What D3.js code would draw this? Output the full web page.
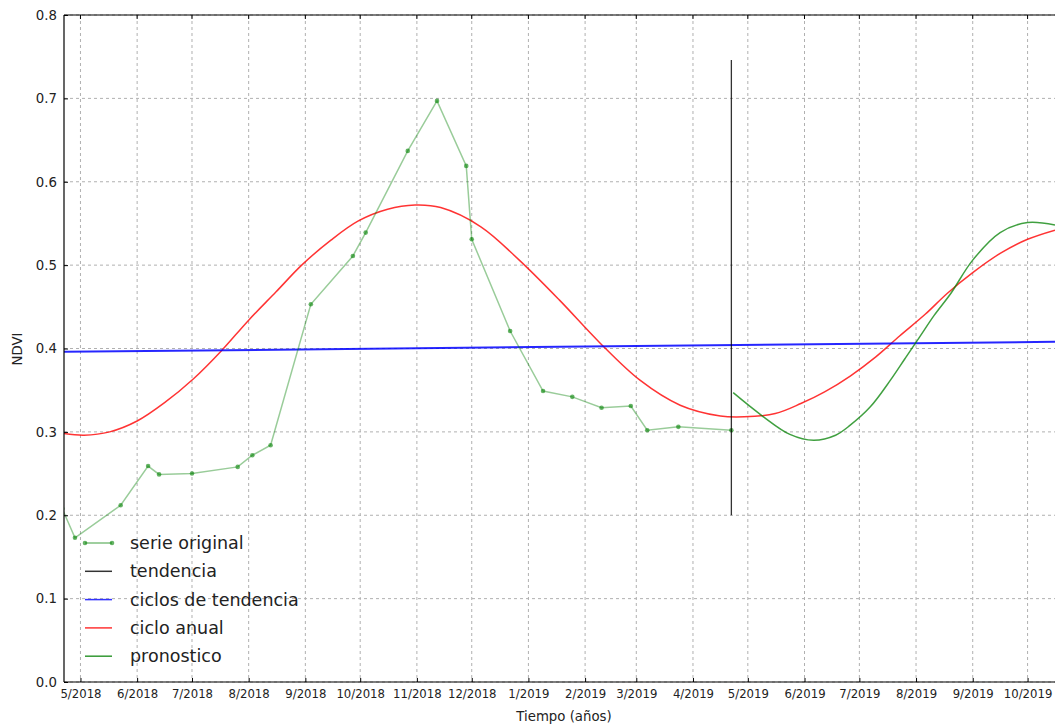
<!DOCTYPE html>
<html><head><meta charset="utf-8">
<script src="https://cdn.jsdelivr.net/npm/d3@7/dist/d3.min.js"></script>
<style>body{margin:0;background:#fff;} svg{display:block;font-family:"DejaVu Sans",sans-serif;}</style>
</head><body><svg id="c" width="1055" height="726"></svg>
<script>
// ---- data ----
const monthTicks = ["2018-05-01","2018-06-01","2018-07-01","2018-08-01","2018-09-01","2018-10-01","2018-11-01","2018-12-01","2019-01-01","2019-02-01","2019-03-01","2019-04-01","2019-05-01","2019-06-01","2019-07-01","2019-08-01","2019-09-01","2019-10-01"];
const monthLabels = ["5/2018","6/2018","7/2018","8/2018","9/2018","10/2018","11/2018","12/2018","1/2019","2/2019","3/2019","4/2019","5/2019","6/2019","7/2019","8/2019","9/2019","10/2019"];
const yTicks = [0.0,0.1,0.2,0.3,0.4,0.5,0.6,0.7,0.8];

const origDates = ["2018-04-21","2018-04-28","2018-05-23","2018-06-07","2018-06-13","2018-07-01","2018-07-26","2018-08-03","2018-08-13","2018-09-04","2018-09-27","2018-10-04","2018-10-27","2018-11-12","2018-11-28","2018-12-01","2018-12-22","2019-01-09","2019-01-25","2019-02-10","2019-02-26","2019-03-07","2019-03-24","2019-04-22"];
const origValues = [0.208,0.173,0.212,0.259,0.249,0.250,0.258,0.272,0.284,0.453,0.511,0.539,0.637,0.697,0.619,0.531,0.421,0.349,0.342,0.329,0.331,0.302,0.306,0.302];

const trendDates = ["2019-04-22","2019-04-22"];
const trendValues = [0.200,0.746];

const cycleTrendDates = ["2018-04-22","2019-10-16"];
const cycleTrendValues = [0.396,0.408];

const annualDates = ["2018-04-22","2018-05-03","2018-05-17","2018-06-01","2018-06-16","2018-07-02","2018-07-17","2018-08-01","2018-08-16","2018-08-30","2018-09-15","2018-09-30","2018-10-16","2018-10-31","2018-11-14","2018-12-06","2018-12-27","2019-01-18","2019-02-09","2019-03-03","2019-03-25","2019-04-16","2019-04-29","2019-05-16","2019-05-30","2019-06-12","2019-06-26","2019-07-10","2019-07-23","2019-08-06","2019-08-18","2019-09-01","2019-09-16","2019-10-01","2019-10-16"];
const annualValues = [0.298,0.296,0.300,0.313,0.335,0.364,0.397,0.434,0.468,0.500,0.530,0.553,0.567,0.572,0.569,0.546,0.506,0.458,0.407,0.362,0.332,0.319,0.318,0.322,0.334,0.348,0.367,0.390,0.415,0.441,0.466,0.491,0.514,0.531,0.542];

const forecastDates = ["2019-04-23","2019-05-09","2019-05-24","2019-06-06","2019-06-18","2019-06-26","2019-07-07","2019-07-18","2019-07-26","2019-08-03","2019-08-11","2019-08-20","2019-09-01","2019-09-16","2019-10-01","2019-10-16"];
const forecastValues = [0.347,0.319,0.297,0.290,0.296,0.308,0.330,0.362,0.388,0.414,0.440,0.466,0.506,0.539,0.551,0.548];

const legendLabels = ["serie original","tendencia","ciclos de tendencia","ciclo anual","pronostico"];
const legendColors = ["#008000","#000000","#0000ff","#ff0000","#008000"];

// ---- layout ----
const parse = d3.utcParse("%Y-%m-%d");
const pL = 64, pT = 15, pB = 682, pR = 1055;
const x = d3.scaleUtc().domain([parse("2018-04-22"), parse("2019-10-16")]).range([pL, pR]);
const y = d3.scaleLinear().domain([0, 0.8]).range([pB, pT]);
const svg = d3.select("#c");

svg.append("defs").append("clipPath").attr("id", "clip")
  .append("rect").attr("x", pL).attr("y", pT).attr("width", pR - pL).attr("height", pB - pT);

// grid
const g = svg.append("g");
g.selectAll(".vg").data(monthTicks).enter().append("line")
  .attr("x1", d => x(parse(d))).attr("x2", d => x(parse(d)))
  .attr("y1", pT).attr("y2", pB)
  .attr("stroke", "#b0b0b0").attr("stroke-dasharray", "3,3").attr("stroke-width", 1);
g.selectAll(".hg").data(yTicks).enter().append("line")
  .attr("x1", pL).attr("x2", pR)
  .attr("y1", d => y(d)).attr("y2", d => y(d))
  .attr("stroke", "#b0b0b0").attr("stroke-dasharray", "3,3").attr("stroke-width", 1);

const zip = (ds, vs) => ds.map((d, i) => [parse(d), vs[i]]);
const straight = d3.line().x(d => x(d[0])).y(d => y(d[1]));
const smooth = d3.line().x(d => x(d[0])).y(d => y(d[1])).curve(d3.curveCatmullRom);

const plot = svg.append("g").attr("clip-path", "url(#clip)");
// red annual cycle
plot.append("path").datum(zip(annualDates, annualValues))
  .attr("d", smooth).attr("fill", "none")
  .attr("stroke", "#ff0000").attr("stroke-opacity", 0.8).attr("stroke-width", 1.5);
// blue
plot.append("path").datum(zip(cycleTrendDates, cycleTrendValues))
  .attr("d", straight).attr("fill", "none")
  .attr("stroke", "#0000ff").attr("stroke-opacity", 0.85).attr("stroke-width", 2);
// original
const orig = zip(origDates, origValues);
plot.append("path").datum(orig)
  .attr("d", straight).attr("fill", "none")
  .attr("stroke", "#008000").attr("stroke-opacity", 0.4).attr("stroke-width", 1.5);
plot.selectAll(".pt").data(orig).enter().append("circle")
  .attr("cx", d => x(d[0])).attr("cy", d => y(d[1])).attr("r", 2.3)
  .attr("fill", "#008000").attr("fill-opacity", 0.6);
// forecast
plot.append("path").datum(zip(forecastDates, forecastValues))
  .attr("d", smooth).attr("fill", "none")
  .attr("stroke", "#008000").attr("stroke-opacity", 0.75).attr("stroke-width", 1.5);
// trend black
plot.append("path").datum(zip(trendDates, trendValues))
  .attr("d", straight).attr("fill", "none")
  .attr("stroke", "#000").attr("stroke-opacity", 0.8).attr("stroke-width", 1.3);

// axes
const xAxis = d3.axisBottom(x).tickValues(monthTicks.map(parse))
  .tickFormat((d, i) => monthLabels[i]).tickSizeInner(-4).tickSizeOuter(0).tickPadding(8);
const xg = svg.append("g").attr("transform", `translate(0,${pB})`).call(xAxis);
xg.select(".domain").remove();
xg.selectAll("text").attr("font-size", 11.7).attr("fill", "#222").attr("font-family", "DejaVu Sans");
const yAxis = d3.axisLeft(y).tickValues(yTicks).tickFormat(d3.format(".1f")).tickSizeInner(-4).tickSizeOuter(0).tickPadding(7);
const yg = svg.append("g").attr("transform", `translate(${pL},0)`).call(yAxis);
yg.select(".domain").remove();
yg.selectAll("text").attr("font-size", 13.3).attr("fill", "#222").attr("font-family", "DejaVu Sans");
// top ticks
svg.selectAll(".tt").data(monthTicks).enter().append("line")
  .attr("x1", d => x(parse(d))).attr("x2", d => x(parse(d))).attr("y1", pT).attr("y2", pT + 4)
  .attr("stroke", "#000");
// spines
svg.append("line").attr("x1", pL).attr("x2", pR).attr("y1", pT).attr("y2", pT).attr("stroke", "#000").attr("stroke-width", 1.2);
svg.append("line").attr("x1", pL).attr("x2", pR).attr("y1", pB).attr("y2", pB).attr("stroke", "#000").attr("stroke-width", 1.2);
svg.append("line").attr("x1", pL).attr("x2", pL).attr("y1", pT).attr("y2", pB).attr("stroke", "#000").attr("stroke-width", 1.2);

// labels
svg.append("text").attr("x", 564).attr("y", 721).attr("text-anchor", "middle").attr("font-size", 13.3).attr("fill", "#222").text("Tiempo (años)");
svg.append("text").attr("transform", "translate(22,349) rotate(-90)").attr("text-anchor", "middle").attr("font-size", 13.3).attr("fill", "#222").text("NDVI");

// legend
const lg = svg.append("g");
legendLabels.forEach((lab, i) => {
  const yy = 543 + i * 28.3;
  lg.append("line").attr("x1", 85).attr("x2", 112).attr("y1", yy).attr("y2", yy)
    .attr("stroke", legendColors[i]).attr("stroke-width", 1.5).attr("stroke-opacity", i === 0 ? 0.5 : 0.8);
  if (i === 0) {
    [85, 112].forEach(px => lg.append("circle").attr("cx", px).attr("cy", yy).attr("r", 2.3).attr("fill", "#008000").attr("fill-opacity", 0.6));
  }
  lg.append("text").attr("x", 130).attr("y", yy).attr("dy", "0.35em").attr("font-size", 17.5).attr("fill", "#222").text(lab);
});
</script></body></html>
